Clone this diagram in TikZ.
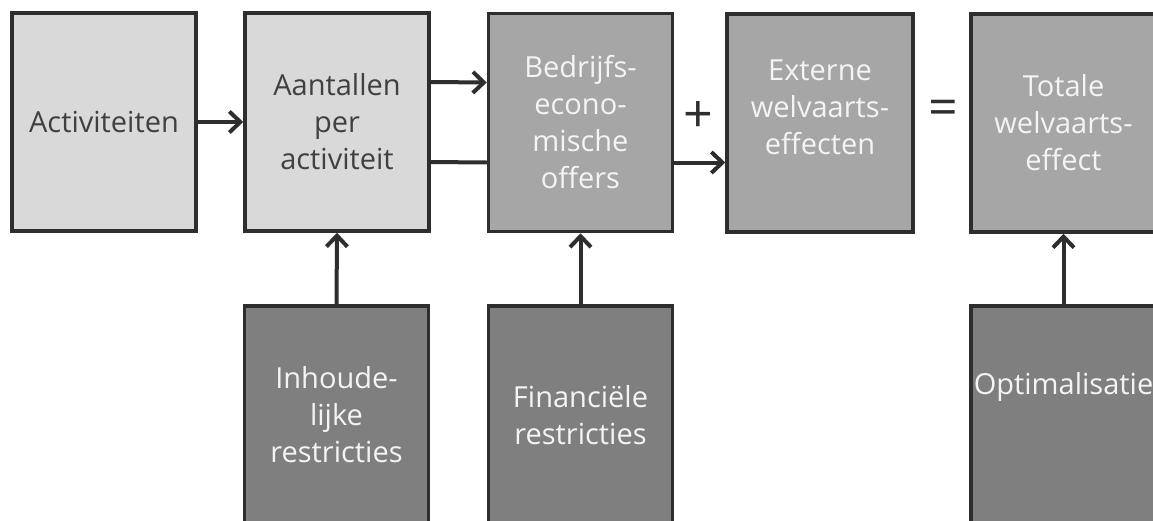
\documentclass[tikz,border=0pt]{standalone}
\usepackage{fontspec}
\setmainfont{Open Sans}
\usetikzlibrary{arrows.meta}
\definecolor{boxlight}{HTML}{D9D9D9}
\definecolor{boxmid}{HTML}{A6A6A6}
\definecolor{boxdark}{HTML}{7F7F7F}
\definecolor{edge}{HTML}{2E2E2E}
\definecolor{txtdark}{HTML}{404040}
\definecolor{txtlight}{HTML}{F4F4F4}
\begin{document}
\begin{tikzpicture}[x=1pt,y=-1pt,
  lbl/.style={font=\fontsize{29}{37}\selectfont},
  box/.style={draw=edge,line width=3.5pt,minimum width=184pt,minimum height=218pt,
    align=center,inner sep=0pt,lbl},
  lightbox/.style={box,fill=boxlight,text=txtdark},
  midbox/.style={box,fill=boxmid,text=txtlight},
  darkbox/.style={box,fill=boxdark,text=txtlight},
  arr/.style={draw=edge,line width=4pt,-{Straight Barb[length=11pt,width=21pt]}},
  plainline/.style={draw=edge,line width=4pt},
  optext/.style={text=edge,font=\fontsize{52}{52}\selectfont,inner sep=0pt}]
\clip (0,0) rectangle (1153,520);
\fill[white] (0,0) rectangle (1153,520);
\node[lightbox] (act) at (104,122) {Activiteiten};
\node[lightbox] (aan) at (337,122) {Aantallen\\per\\activiteit};
\node[midbox] (bed) at (580.5,122.5) {Bedrijfs-\\econo-\\mische\\offers};
\node[midbox,minimum width=186pt] (ext) at (820,123) {};
\node[text=txtlight,align=center,lbl,inner sep=0pt] (extT) at (820,107) {Externe\\welvaarts-\\effecten};
\node[midbox,minimum width=185pt] (tot) at (1063.5,123) {Totale\\welvaarts-\\effect};
\node[darkbox] (inh) at (336.5,415) {Inhoude-\\lijke\\restricties};
\node[darkbox] (fin) at (580.5,415) {Financiële\\restricties};
\node[darkbox,minimum width=185pt] (opt) at (1063.5,415) {};
\node[text=txtlight,lbl,inner sep=0pt] (optT) at (1063.5,387) {Optimalisatie};
\node[optext] (plus) at (698,117) {+};
\node[optext] (eq) at (943,113) {=};
\draw[arr] (act.east) -- (aan.west);
\draw[arr] ([yshift=40pt]aan.east) -- ([yshift=40pt]bed.west);
\draw[plainline] ([yshift=-40pt]aan.east) -- ([yshift=-40pt]bed.west);
\draw[arr] ([yshift=-40pt]bed.east) -- ([yshift=-40pt]bed.east -| ext.west);
\draw[arr] (inh.north) -- (aan.south);
\draw[arr] (fin.north) -- (bed.south);
\draw[arr] (opt.north) -- (tot.south);
\end{tikzpicture}
\end{document}
